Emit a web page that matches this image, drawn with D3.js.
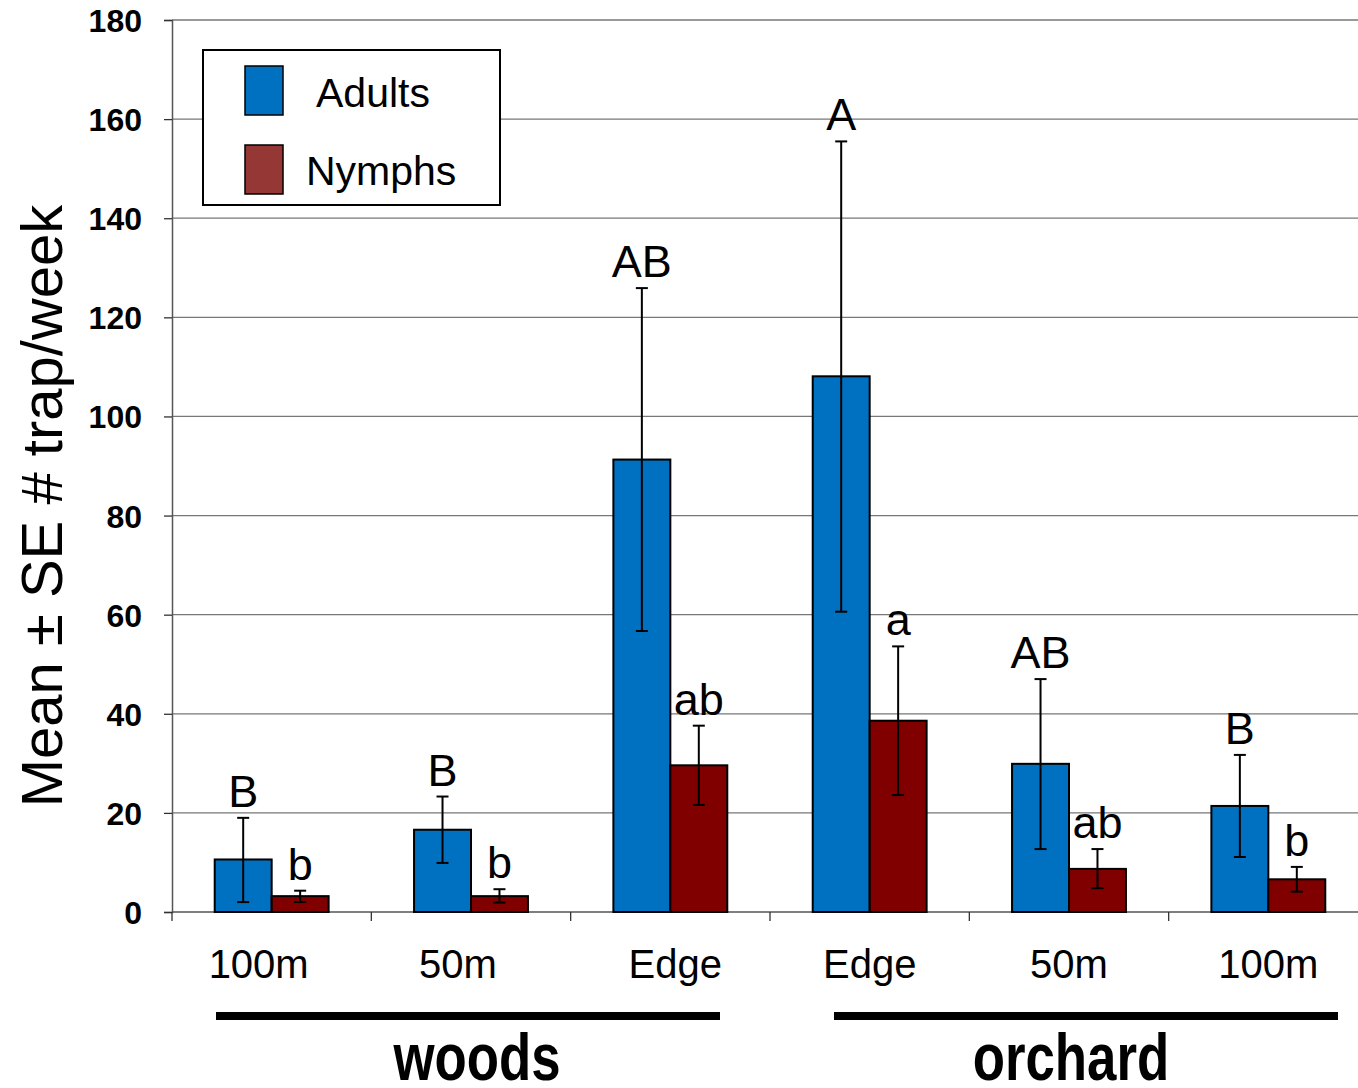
<!DOCTYPE html>
<html>
<head>
<meta charset="utf-8">
<script src="https://cdn.jsdelivr.net/npm/d3@7"></script>
<style>
  body { margin: 0; background: #fff; }
  svg { display: block; font-family: "Liberation Sans", Arial, sans-serif; }
</style>
</head>
<body>
<svg id="chart" width="1358" height="1088"></svg>
<script>
// data
var sites = ["100m", "50m", "Edge", "Edge", "50m", "100m"];
var habitats = ["woods", "orchard"];
var siteHabitat = [0, 0, 0, 1, 1, 1];
var stages = ["Adults", "Nymphs"];
var adultMean = [10.6, 16.6, 91.3, 108.1, 29.9, 21.4];
var adultLow  = [2.0, 9.9, 56.7, 60.6, 12.7, 11.1];
var adultHigh = [19.0, 23.3, 125.9, 155.5, 47.0, 31.7];
var nymphMean = [3.2, 3.2, 29.6, 38.6, 8.7, 6.6];
var nymphLow  = [2.0, 1.9, 21.6, 23.6, 4.8, 4.1];
var nymphHigh = [4.3, 4.6, 37.6, 53.6, 12.7, 9.1];
var adultLetters = ["B", "B", "AB", "A", "AB", "B"];
var nymphLetters = ["b", "b", "ab", "a", "ab", "b"];
var yTicks = [0, 20, 40, 60, 80, 100, 120, 140, 160, 180];

var colors = { Adults: "#0070C0", Nymphs: "#800000" };
var legendColors = { Adults: "#0070C0", Nymphs: "#953735" };

var svg = d3.select("#chart");
var plotLeft = 172, plotRight = 1368, plotTop = 20, plotBottom = 912;

var y = d3.scaleLinear().domain([0, 180]).range([plotBottom, plotTop]);
var x0 = d3.scaleBand().domain(d3.range(sites.length)).range([plotLeft, plotRight]).padding(0);
var x1 = d3.scaleBand().domain(stages).range([0, x0.bandwidth()]).paddingInner(0).paddingOuter(0.75);

var flat = [];
sites.forEach(function (s, i) {
  flat.push({ i: i, stage: "Adults", mean: adultMean[i], lo: adultLow[i], hi: adultHigh[i], letter: adultLetters[i] });
  flat.push({ i: i, stage: "Nymphs", mean: nymphMean[i], lo: nymphLow[i], hi: nymphHigh[i], letter: nymphLetters[i] });
});

// gridlines
svg.append("g")
  .selectAll("line")
  .data(yTicks.slice(1))
  .enter().append("line")
  .attr("x1", plotLeft).attr("x2", 1358)
  .attr("y1", d => y(d)).attr("y2", d => y(d))
  .attr("stroke", "#777").attr("stroke-width", 1.3);

// y axis
var yAxis = svg.append("g")
  .attr("transform", "translate(" + plotLeft + ",0)")
  .call(d3.axisLeft(y).tickValues(yTicks).tickSize(8).tickPadding(22));
yAxis.select(".domain").attr("stroke", "#555").attr("stroke-width", 1.5);
yAxis.selectAll(".tick line").attr("stroke", "#333").attr("stroke-width", 1.3);
yAxis.selectAll("text")
  .attr("fill", "#000")
  .style("font-size", "32px")
  .style("font-weight", "bold")
  .attr("dy", "0.36em");

// x axis with ticks at group boundaries
svg.append("line")
  .attr("x1", plotLeft).attr("x2", 1358)
  .attr("y1", plotBottom).attr("y2", plotBottom)
  .attr("stroke", "#555").attr("stroke-width", 1.5);
svg.append("g")
  .selectAll("line")
  .data(d3.range(sites.length))
  .enter().append("line")
  .attr("x1", d => x0(d)).attr("x2", d => x0(d))
  .attr("y1", plotBottom).attr("y2", plotBottom + 9)
  .attr("stroke", "#333").attr("stroke-width", 1.3);

// bars
svg.append("g")
  .selectAll("rect")
  .data(flat)
  .enter().append("rect")
  .attr("x", d => x0(d.i) + x1(d.stage))
  .attr("y", d => y(d.mean))
  .attr("width", x1.bandwidth())
  .attr("height", d => y(0) - y(d.mean))
  .attr("fill", d => colors[d.stage])
  .attr("stroke", "#000")
  .attr("stroke-width", 2);

// error bars
var err = svg.append("g").attr("stroke", "#000").attr("stroke-width", 2);
flat.forEach(function (d) {
  var cx = x0(d.i) + x1(d.stage) + x1.bandwidth() / 2;
  err.append("line").attr("x1", cx).attr("x2", cx).attr("y1", y(d.lo)).attr("y2", y(d.hi));
  err.append("line").attr("x1", cx - 6).attr("x2", cx + 6).attr("y1", y(d.lo)).attr("y2", y(d.lo));
  err.append("line").attr("x1", cx - 6).attr("x2", cx + 6).attr("y1", y(d.hi)).attr("y2", y(d.hi));
});

// significance letters
svg.append("g")
  .selectAll("text")
  .data(flat)
  .enter().append("text")
  .attr("x", d => x0(d.i) + x1(d.stage) + x1.bandwidth() / 2)
  .attr("y", d => y(d.hi) - 11)
  .attr("text-anchor", "middle")
  .style("font-size", "45px")
  .text(d => d.letter);

// site labels (woods side sits a little left of centre in the original)
svg.append("g")
  .selectAll("text")
  .data(sites)
  .enter().append("text")
  .attr("x", (d, i) => x0(i) + x0.bandwidth() / 2 + (i < 2 ? -13 : i === 2 ? 5 : 0))
  .attr("y", 978)
  .attr("text-anchor", "middle")
  .style("font-size", "40px")
  .text(d => d);

// habitat brackets and names
habitats.forEach(function (h, k) {
  var idx = d3.range(sites.length).filter(i => siteHabitat[i] === k);
  var first = idx[0], last = idx[idx.length - 1];
  var xa = k === 0 ? x0(first) + 44 : x0(first) + 64;
  var xb = k === 0 ? x0(last) + x0.bandwidth() - 50 : x0(last) + x0.bandwidth() - 30;
  svg.append("rect")
    .attr("x", xa).attr("y", 1012)
    .attr("width", xb - xa).attr("height", 8)
    .attr("fill", "#000");
  var cx = k === 0 ? (xa + xb) / 2 + 9 : (xa + xb) / 2 - 15;
  svg.append("text")
    .attr("transform", "translate(" + cx + ",1080) scale(0.8,1)")
    .attr("text-anchor", "middle")
    .style("font-weight", "bold")
    .style("font-size", "66px")
    .text(h);
});

// y title
svg.append("text")
  .attr("transform", "translate(62,506) rotate(-90)")
  .attr("text-anchor", "middle")
  .style("font-size", "58px")
  .text("Mean \u00B1 SE # trap/week");

// legend
var lg = svg.append("g");
lg.append("rect")
  .attr("x", 203).attr("y", 50).attr("width", 297).attr("height", 155)
  .attr("fill", "#fff").attr("stroke", "#000").attr("stroke-width", 2);
stages.forEach(function (s, k) {
  lg.append("rect")
    .attr("x", 245).attr("y", 66 + k * 79)
    .attr("width", 38).attr("height", 49)
    .attr("fill", legendColors[s]).attr("stroke", "#000").attr("stroke-width", 1.5);
  lg.append("text")
    .attr("x", k === 0 ? 316 : 306).attr("y", 107 + k * 78)
    .style("font-size", "41px")
    .text(s);
});
</script>
</body>
</html>
